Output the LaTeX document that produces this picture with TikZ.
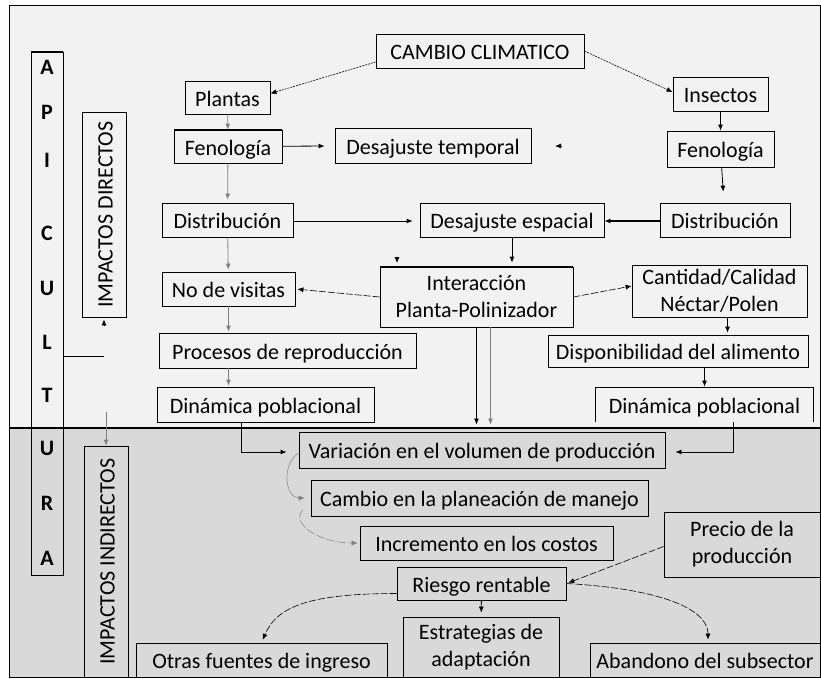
\documentclass[tikz,border=0pt]{standalone}
\usepackage{fontspec}
\setmainfont{Carlito}
\usetikzlibrary{arrows.meta}

\definecolor{fondoarriba}{HTML}{F2F2F2}
\definecolor{fondoabajo}{HTML}{D9D9D9}
\definecolor{grislinea}{HTML}{7F7F7F}

\tikzset{
	cajados/.style 2 args={draw, line width=0.8pt, inner sep=0pt, align=center, minimum width=#1, minimum height=#2},
	caja/.style 2 args={cajados={#1}{#2}, text height=17pt, text depth=0pt},
	flecha/.style={-{Latex[length=6pt,width=5pt]}, line width=0.8pt},
	flechagris/.style={flecha, draw=grislinea},
	punteada/.style={flecha, line width=0.6pt, dash pattern=on 2pt off 1pt},
	rayada/.style={flecha, line width=0.6pt, dash pattern=on 7pt off 2pt},
	curva/.style={flecha, line width=0.5pt, draw=grislinea},
}

\begin{document}
\begin{tikzpicture}[x=1pt, y=-1pt, font=\fontsize{22}{27}\selectfont]
	
	\useasboundingbox (0,0) rectangle (821,678);
	
	% Draw background
	\fill[fondoarriba] (9,5) rectangle (820,428);
	\fill[fondoabajo] (9,428) rectangle (820,677);
	\draw[line width=0.8pt] (9,5) rectangle (820,677);
	\draw[line width=2.5pt] (9,428) -- (820,428);
	
	% Draw left column
	\node[cajados={32pt}{523pt}] (apic) at (47,313.5) {};
	\draw[line width=1.6pt] (apic.north west) -- (apic.north east);
	\foreach \letra/\pos in {A/67,P/112,I/160,C/233,U/288,L/342,T/395,U/448,R/503,A/558}
		\node[font=\fontsize{22}{27}\selectfont\bfseries] (letra\pos) at (47,\pos) {\letra};
	\node[caja={205pt}{44pt}, rotate=90] (impdir) at (104,214.5) {IMPACTOS DIRECTOS};
	\node[caja={231pt}{44pt}, rotate=90] (impind) at (106,561.5) {IMPACTOS INDIRECTOS};
	\draw[line width=0.8pt] (apic.east |- 0,356) -- (impdir.west |- 0,356);
	\draw[flecha, shorten >=2pt] ([yshift=-8pt]impdir.west) -- (impdir.west);
	\draw[flechagris] ([yshift=34pt]impind.east) -- (impind.east);
	
	% Draw direct impacts
	\node[caja={208pt}{34pt}] (cambio) at (480,51) {CAMBIO CLIMATICO};
	\node[caja={85pt}{33pt}] (plantas) at (227.5,97.5) {Plantas};
	\node[caja={95pt}{34pt}] (insectos) at (720.5,94) {Insectos};
	\node[caja={108pt}{33pt}] (fenP) at (228,146.5) {Fenología};
	\draw[line width=1.6pt] (fenP.north west) -- (fenP.north east);
	\node[caja={196pt}{35pt}] (destemp) at (433,145.5) {Desajuste temporal};
	\node[caja={107pt}{36pt}] (fenI) at (720.5,149) {Fenología};
	\node[caja={131pt}{34pt}] (distP) at (227.5,220) {Distribución};
	\node[caja={184pt}{34pt}] (desesp) at (512,220) {Desajuste espacial};
	\node[caja={130pt}{34pt}] (distI) at (725,220) {Distribución};
	\node[caja={133pt}{34pt}] (visitas) at (228.5,289) {No de visitas};
	\node[cajados={193pt}{60pt}] (inter) at (476.5,297) {Interacción\\Planta-Polinizador};
	\draw[line width=1.6pt] (inter.north west) -- (inter.north east) (inter.south west) -- (inter.south east);
	\node[cajados={175pt}{52pt}] (cantidad) at (719.5,291) {Cantidad/Calidad\\Néctar/Polen};
	\node[caja={257pt}{35pt}] (procesos) at (287.5,350.5) {Procesos de reproducción};
	\node[caja={260pt}{32pt}] (dispon) at (678,351) {Disponibilidad del alimento};
	\node[caja={217pt}{35pt}] (dinP) at (265.5,404.5) {Dinámica poblacional};
	\node[caja={217pt}{34pt}, draw=none] (dinI) at (704.5,405) {Dinámica poblacional};
	\draw[line width=0.8pt] (dinI.south west) -- (dinI.north west) -- (dinI.north east) -- (dinI.south east);
	\coordinate (puntaT) at (555,146);
	\coordinate (puntaI) at (397,263);
	
	\draw[punteada] ([yshift=-11pt]cambio.west) -- ([yshift=4pt]plantas.east);
	\draw[punteada] (cambio.east) -- ([yshift=2pt]insectos.west);
	\draw[flechagris] (plantas) -- (fenP);
	\draw[flecha, shorten >=10pt] (fenP) -- (destemp);
	\draw[flecha] ([xshift=6pt]puntaT) -- (puntaT);
	\draw[flechagris, shorten >=3pt] (fenP) -- (distP);
	\draw[flecha] (insectos) -- (fenI);
	\draw[flecha, shorten >=11pt] (fenI) -- (distI);
	\draw[flecha, shorten >=7pt] ([yshift=-1pt]distP.east) -- ([yshift=-1pt]desesp.west);
	\draw[flecha, line width=1.2pt] ([yshift=-1pt]distI.west) -- ([yshift=-1pt]desesp.east);
	\draw[flecha, shorten >=4pt] (desesp.south) -- (desesp.south |- inter.north);
	\draw[flecha] ([yshift=5pt]puntaI) -- (puntaI);
	\draw[flechagris, shorten >=2pt] (distP) -- (visitas);
	\draw[rayada, shorten >=2pt] (inter.west) -- (visitas.east);
	\draw[rayada] (inter.east) -- ([yshift=5pt]cantidad.west);
	\draw[flecha, shorten >=2pt] ([xshift=8pt]cantidad.south) -- ([xshift=8pt]cantidad.south |- dispon.north);
	\draw[flecha, shorten >=1pt] (dispon.south -| dinI.north) -- (dinI.north);
	\draw[flechagris, shorten >=1pt] (visitas.south) -- (visitas.south |- procesos.north);
	\draw[flechagris, shorten >=1pt] (procesos.south -| visitas.south) -- (visitas.south |- dinP.north);
	
	% Draw indirect impacts
	\node[caja={366pt}{36pt}] (variacion) at (482,450) {Variación en el volumen de producción};
	\node[caja={337pt}{36pt}] (cambioplan) at (479.5,498) {Cambio en la planeación de manejo};
	\node[caja={253pt}{34pt}] (incremento) at (486.5,543) {Incremento en los costos};
	\node[caja={169pt}{33pt}] (riesgo) at (481.5,583.5) {Riesgo rentable};
	\node[cajados={156pt}{65pt}] (precio) at (742,544.5) {Precio de la\\producción};
	\node[caja={251pt}{34pt}] (otras) at (261.5,660) {Otras fuentes de ingreso};
	\node[cajados={156pt}{60pt}] (estrategias) at (481,647) {Estrategias de\\adaptación};
	\node[caja={230pt}{34pt}] (abandono) at (705,660) {Abandono del subsector};
	
	\draw[flecha, shorten >=7pt] (inter.south) -- (inter.south |- variacion.north);
	\draw[flechagris, shorten >=7pt] ([xshift=14pt]inter.south) -- ([xshift=14pt]inter.south |- variacion.north);
	\draw[flecha, shorten >=12pt] ([xshift=-24.5pt]dinP.south) |- ([yshift=-2pt]variacion.west);
	\draw[flecha, shorten >=10pt] ([xshift=28.5pt]dinI.south) |- ([yshift=-2pt]variacion.east);
	\draw[curva, shorten >=6pt] ([yshift=-3pt]variacion.west) .. controls +(-18,12) and +(-25,0) .. (cambioplan.west);
	\draw[curva, dash pattern=on 9pt off 2pt, shorten >=2pt] ([xshift=-8pt,yshift=-12pt]cambioplan.west) .. controls +(-12,14) and +(-40,0) .. (incremento.west);
	\draw[rayada, shorten >=2pt] ([yshift=-2pt]precio.west) -- (riesgo.east);
	\draw[rayada, shorten >=3pt] (riesgo.east) .. controls +(90,5) and +(0,-35) .. ([xshift=3pt]abandono.north);
	\draw[rayada, shorten >=3pt] ([yshift=-10pt]riesgo.west) .. controls +(-90,0) and +(15,-35) .. (otras.north);
	\draw[flecha, shorten >=4pt] (riesgo) -- (estrategias);
	
\end{tikzpicture}
\end{document}
